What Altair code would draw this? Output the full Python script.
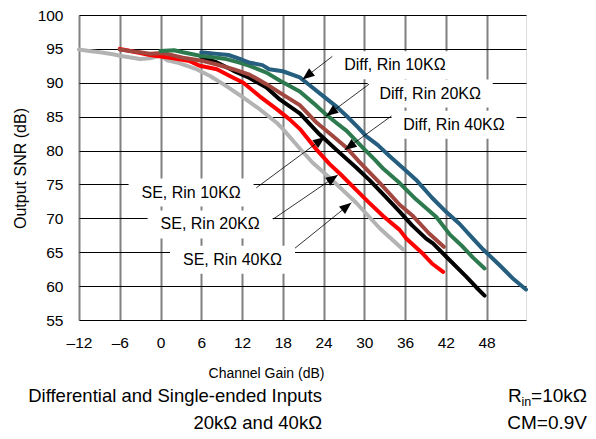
import math
import altair as alt
import pandas as pd

# ---- series data: channel gain (dB) -> output SNR (dB) ----
diff10_gain = [6, 8, 10, 12, 13, 15, 16, 18, 20.5, 22, 24, 26, 27.4, 29, 30.3, 32, 33.7, 35.6, 37.6, 40, 42, 44, 46, 47.5, 50, 52, 53.8]
diff10_snr = [94.5, 94.3, 94.1, 93.4, 93.0, 92.6, 92.0, 91.7, 90.8, 89.6, 88.0, 86.4, 85.1, 83.5, 82.1, 80.8, 79.2, 77.5, 75.7, 73.0, 71.0, 69.2, 67.0, 65.4, 63.0, 61.0, 59.5]

diff20_gain = [0, 2, 3.3, 5.8, 7.5, 9.7, 11.5, 13.1, 15.6, 17.6, 20.5, 22.5, 24.4, 26, 27.4, 29.8, 31.5, 32.8, 35.2, 37.6, 40.6, 42.6, 44.5, 46, 47.7]
diff20_snr = [94.7, 94.8, 94.5, 94.0, 93.8, 93.5, 93.0, 92.5, 91.5, 90.3, 88.7, 87.0, 85.3, 84.0, 82.9, 80.4, 78.7, 77.3, 75.2, 72.8, 70.2, 67.6, 65.8, 64.2, 62.6]

diff40_gain = [-6, -4, -3, -1.6, 0.4, 2, 3.3, 6.3, 8.3, 10.7, 13.1, 15.6, 17.6, 20.5, 23, 25.4, 27.4, 29.3, 32.3, 35.2, 37.2, 39.5, 41.7]
diff40_snr = [94.9, 94.6, 94.5, 94.3, 94.4, 94.0, 93.7, 93.2, 92.7, 92.0, 91.2, 89.8, 88.5, 86.7, 84.1, 82.1, 80.4, 78.3, 75.2, 72.0, 70.3, 67.8, 65.8]

se10_gain = [6, 8.3, 10.7, 13.1, 15.6, 17.6, 20.5, 23.4, 25.9, 28.8, 30.8, 33, 35.2, 37, 39.1, 40.1, 42.1, 45, 46.5, 47.7]
se10_snr = [93.8, 93.0, 91.8, 90.7, 89.3, 87.5, 85.5, 82.4, 80.1, 77.5, 75.6, 73.3, 71.0, 69.0, 67.0, 66.3, 64.3, 61.4, 59.8, 58.6]

se20_gain = [-6, -5, -3, -1.6, 1.4, 4.3, 5.8, 8.3, 10.2, 12.2, 14.6, 17.1, 19, 20.5, 23, 24.9, 26.5, 28.8, 30.5, 32.8, 35.2, 36.2, 38.6, 40, 41.6]
se20_snr = [95.0, 94.8, 94.4, 94.1, 93.7, 93.2, 92.5, 92.0, 91.0, 90.0, 88.0, 86.1, 84.6, 83.2, 80.1, 78.0, 76.5, 74.2, 72.5, 70.3, 68.3, 67.0, 64.8, 63.3, 62.1]

se40_gain = [-12, -10.5, -8.9, -7, -6, -3, -1.6, 0, 1, 2.4, 5.3, 7.3, 9.7, 12.2, 14.6, 17.1, 18, 20.5, 22.4, 25, 28.8, 32.3, 35.7]
se40_snr = [94.9, 94.7, 94.5, 94.2, 94.0, 93.5, 93.6, 94.0, 93.3, 93.0, 92.0, 91.0, 89.5, 87.8, 86.1, 84.1, 83.2, 80.3, 78.2, 75.9, 72.3, 68.5, 65.4]

# drawing order: bottom first
series = [
    ("SE, Rin 40KΩ", se40_gain, se40_snr, "#B3B3B3"),
    ("SE, Rin 20KΩ", se20_gain, se20_snr, "#FF0000"),
    ("SE, Rin 10KΩ", se10_gain, se10_snr, "#000000"),
    ("Diff, Rin 40KΩ", diff40_gain, diff40_snr, "#A2473F"),
    ("Diff, Rin 20KΩ", diff20_gain, diff20_snr, "#2E7A4F"),
    ("Diff, Rin 10KΩ", diff10_gain, diff10_snr, "#255E7E"),
]

# ---- annotation labels (data coordinates) ----
label_text = ["Diff, Rin 10KΩ", "Diff, Rin 20KΩ", "Diff, Rin 40KΩ", "SE, Rin 10KΩ", "SE, Rin 20KΩ", "SE, Rin 40KΩ"]
label_gain = [34.5, 39.7, 43.2, 4.5, 7.3, 10.6]
label_snr = [92.6, 88.4, 83.8, 73.8, 69.1, 63.9]
arrow_from_gain = [25.3, 30.7, 34.0, 14.1, 16.6, 19.8]
arrow_from_snr = [93.9, 89.8, 85.1, 74.5, 69.9, 65.6]
arrow_to_gain = [20.9, 24.4, 27.1, 24.2, 26.1, 28.1]
arrow_to_snr = [90.5, 85.1, 80.1, 82.0, 76.4, 72.3]

x_ticks = [-12, -6, 0, 6, 12, 18, 24, 30, 36, 42, 48]
y_ticks = [55, 60, 65, 70, 75, 80, 85, 90, 95, 100]

X_MIN, X_MAX = -12, 53.8
Y_MIN, Y_MAX = 55, 100
W, H = 447, 305
kx = W / (X_MAX - X_MIN)
ky = H / (Y_MAX - Y_MIN)
BOX_HW = 62.5 / kx
BOX_HH = 14 / ky
HEAD = 6.0

FONT = "Liberation Sans"

xs = alt.Scale(domain=[X_MIN, X_MAX], nice=False, zero=False)
ys = alt.Scale(domain=[Y_MIN, Y_MAX], nice=False, zero=False)
xaxis = alt.Axis(
    values=x_ticks, title="Channel Gain (dB)", grid=True, gridColor="#808080", gridWidth=2,
    ticks=False, tickSize=0, domain=False, labelFontSize=15.5, labelColor="black", labelFont=FONT,
    labelFlush=False, labelOverlap=False,
    labelPadding=15, labelExpr="datum.value < 0 ? '–' + (-datum.value) : '' + datum.value",
    titleFontSize=14, titleFontWeight="normal", titleFont=FONT, titleColor="black",
    titleX=187, titleY=53, titleBaseline="middle", titleAlign="center",
)
yaxis = alt.Axis(
    values=y_ticks, title="Output SNR (dB)", grid=True, gridColor="#000000", gridWidth=1.2,
    ticks=False, tickSize=0, domain=False, labelFontSize=15.5, labelColor="black", labelFont=FONT,
    labelFlush=False, labelOverlap=False,
    labelPadding=16, titleFontSize=16, titleFontWeight="normal", titleFont=FONT, titleColor="black",
    titleX=-59, titleY=153, titleBaseline="middle", titleAlign="center", titleAngle=270,
)


def X(f):
    return alt.X(f, type="quantitative", scale=xs, axis=xaxis)


def Y(f):
    return alt.Y(f, type="quantitative", scale=ys, axis=yaxis)


# label table
lab = pd.DataFrame({"text": label_text, "lx": label_gain, "ly": label_snr})
lab["bx1"] = lab["lx"] - BOX_HW
lab["bx2"] = lab["lx"] + BOX_HW
lab["by1"] = lab["ly"] - BOX_HH
lab["by2"] = lab["ly"] + BOX_HH

arr = pd.DataFrame({"sx": arrow_from_gain, "sy": arrow_from_snr, "tx": arrow_to_gain, "ty": arrow_to_snr})
hx, hy, ang = [], [], []
for sx, sy, tx, ty in zip(arrow_from_gain, arrow_from_snr, arrow_to_gain, arrow_to_snr):
    dxp = (tx - sx) * kx
    dyp = -(ty - sy) * ky
    n = math.hypot(dxp, dyp)
    ux, uy = dxp / n, dyp / n
    hx.append(tx - HEAD * ux / kx)
    hy.append(ty + HEAD * uy / ky)
    ang.append(math.degrees(math.atan2(ux, -uy)) % 360)
arr["hx"] = hx
arr["hy"] = hy
arr["ang"] = ang

layers = []
layers.append(
    alt.Chart(lab).mark_rect(color="white", opacity=1).encode(
        x=X("bx1"), x2="bx2", y=Y("by1"), y2="by2"
    )
)
for name, g, s, col in series:
    df = pd.DataFrame({"gain": g, "snr": s})
    layers.append(
        alt.Chart(df).mark_line(color=col, strokeWidth=4, strokeJoin="round", strokeCap="round").encode(
            x=X("gain"), y=Y("snr"), order="gain:Q"
        )
    )
layers.append(
    alt.Chart(arr).mark_rule(color="black", strokeWidth=0.8).encode(
        x=X("sx"), y=Y("sy"), x2="tx", y2="ty"
    )
)
layers.append(
    alt.Chart(arr).mark_point(
        shape="M0,-1L0.8,1L-0.8,1Z", filled=True, color="black", opacity=1, size=(2 * HEAD) ** 2, strokeWidth=0
    ).encode(x=X("hx"), y=Y("hy"), angle=alt.Angle("ang:Q", scale=None))
)
layers.append(
    alt.Chart(lab).mark_text(font=FONT, fontSize=16, color="black", align="center", baseline="middle").encode(
        x=X("lx"), y=Y("ly"), text="text:N"
    )
)

one = pd.DataFrame({"k": [0]})


def note(txt, px, py, align, size=18.5):
    return alt.Chart(one).mark_text(
        font=FONT, fontSize=size, color="black", align=align, baseline="middle"
    ).encode(x=alt.value(px), y=alt.value(py), text=alt.value(txt))


layers += [
    note("Differential and Single-ended Inputs", 243, 381, "right"),
    note("20kΩ and 40kΩ", 243, 407.5, "right"),
    note("R", 429, 381, "left", 19),
    note("in", 442.5, 386.5, "left", 12.5),
    note("=10kΩ", 508, 381, "right", 19),
    note("CM=0.9V", 508, 407.5, "right", 19),
]

chart = alt.layer(*layers).properties(
    width=W, height=H,
    padding={"left": 71, "top": 7, "right": 62, "bottom": 111},
    autosize=alt.AutoSizeParams(type="none"),
).configure_view(stroke="black", strokeWidth=3).configure(font=FONT, background="white")

chart.save("out.html", embed_options={"renderer": "svg", "actions": False})
